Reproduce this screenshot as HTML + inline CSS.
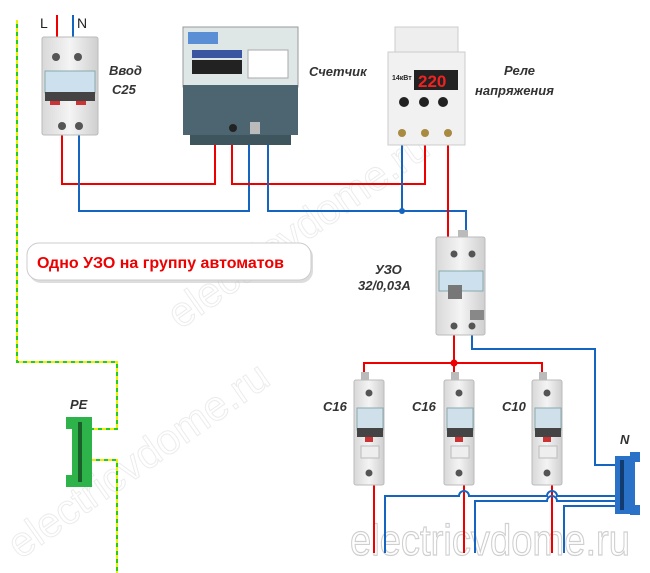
<!DOCTYPE html>
<html><head><meta charset="utf-8"><style>
html,body{margin:0;padding:0;background:#fff}
svg{display:block}
text{font-family:"Liberation Sans",sans-serif}
.lab{font-weight:bold;font-style:italic;fill:#333;font-size:13px}
</style></head><body>
<svg width="650" height="573" viewBox="0 0 650 573" xmlns="http://www.w3.org/2000/svg">
<defs>
<linearGradient id="gr" x1="0" x2="1"><stop offset="0" stop-color="#d8d8d8"/><stop offset=".5" stop-color="#f4f4f4"/><stop offset="1" stop-color="#cfcfcf"/></linearGradient>
<g id="brk1">
<rect x="-3" y="-8" width="8" height="10" fill="#bbb"/>
<rect x="-10" y="0" width="30" height="105" rx="2" fill="url(#gr)" stroke="#bbb"/>
<circle cx="5" cy="13" r="3.5" fill="#555"/>
<rect x="-7" y="28" width="26" height="22" fill="#cfe0ea" stroke="#8aa"/>
<rect x="-7" y="48" width="26" height="9" fill="#444"/>
<rect x="1" y="57" width="8" height="5" fill="#c33"/>
<rect x="-3" y="66" width="18" height="12" fill="#eee" stroke="#bbb"/>
<circle cx="5" cy="93" r="3.5" fill="#555"/>
</g>
</defs>

<!-- watermark -->
<text x="350" y="555" font-size="44" fill="none" stroke="#cfcfcf" stroke-width="1.2" textLength="280" lengthAdjust="spacingAndGlyphs">electricvdome.ru</text>
<text x="180" y="330" font-size="42" fill="none" stroke="#ececec" stroke-width="1" transform="rotate(-35 180 330)">electricvdome.ru</text>
<text x="20" y="560" font-size="42" fill="none" stroke="#ececec" stroke-width="1" transform="rotate(-35 20 560)">electricvdome.ru</text>

<!-- PE dashed -->
<g fill="none" stroke-width="2">
<polyline points="17,20 17,362 117,362 117,429 92,429" stroke="#22cc22"/>
<polyline points="17,20 17,362 117,362 117,429 92,429" stroke="#eeee00" stroke-dasharray="4 4"/>
<polyline points="92,460 117,460 117,573" stroke="#22cc22"/>
<polyline points="92,460 117,460 117,573" stroke="#eeee00" stroke-dasharray="4 4"/>
</g>
<!-- PE bar -->
<rect x="72" y="417" width="20" height="70" fill="#2db34a"/>
<rect x="66" y="417" width="8" height="12" fill="#2db34a"/>
<rect x="66" y="475" width="8" height="12" fill="#2db34a"/>
<g fill="#1a5e2a"><rect x="78" y="422" width="4" height="60"/></g>
<text x="70" y="409" class="lab" font-size="15">PE</text>

<!-- wires -->
<g fill="none" stroke-width="2">
<line x1="57" y1="15" x2="57" y2="40" stroke="#e00"/>
<line x1="73" y1="15" x2="73" y2="40" stroke="#1565c0"/>
<polyline points="62,135 62,184 215,184 215,145" stroke="#e00"/>
<polyline points="79,135 79,211 249,211 249,145" stroke="#1565c0"/>
<polyline points="232,145 232,184 425,184 425,145" stroke="#e00"/>
<polyline points="268,145 268,211 466,211 466,237" stroke="#1565c0"/>
<line x1="402" y1="145" x2="402" y2="211" stroke="#1565c0"/>
<line x1="448" y1="145" x2="448" y2="237" stroke="#e00"/>
<polyline points="472,330 472,349 595,349 595,465 615,465" stroke="#1565c0"/>
<line x1="454" y1="330" x2="454" y2="380" stroke="#e00"/>
<polyline points="364,380 364,363 542,363 542,380" stroke="#e00"/>
<line x1="374" y1="485" x2="374" y2="553" stroke="#e00"/>
<line x1="464" y1="485" x2="464" y2="553" stroke="#e00"/>
<line x1="552" y1="485" x2="552" y2="553" stroke="#e00"/>
<path d="M385,553 V496 H459 a5,5 0 0 1 10,0 H547 a5,5 0 0 1 10,0 H615" stroke="#1565c0"/>
<path d="M475,553 V501 H547 a5,5 0 0 1 10,0 H615" stroke="#1565c0"/>
<path d="M564,553 V506 H615" stroke="#1565c0"/>
</g>
<circle cx="402" cy="211" r="3" fill="#1565c0"/>
<circle cx="454" cy="363" r="3.5" fill="#e00"/>
<text x="40" y="28" font-size="14" fill="#222">L</text>
<text x="77" y="28" font-size="14" fill="#222">N</text>

<!-- intro breaker -->
<rect x="42" y="37" width="56" height="98" rx="2" fill="url(#gr)" stroke="#bbb"/>
<circle cx="56" cy="57" r="4" fill="#555"/><circle cx="78" cy="57" r="4" fill="#555"/>
<rect x="45" y="71" width="50" height="22" fill="#cde0ee" stroke="#8aa"/>
<rect x="45" y="92" width="50" height="9" fill="#444"/>
<rect x="50" y="101" width="10" height="4" fill="#c33"/><rect x="76" y="101" width="10" height="4" fill="#c33"/>
<circle cx="62" cy="126" r="4" fill="#555"/><circle cx="79" cy="126" r="4" fill="#555"/>
<text x="109" y="75" class="lab" font-size="14">Ввод</text>
<text x="112" y="94" class="lab" font-size="14">C25</text>

<!-- meter -->
<rect x="183" y="27" width="115" height="60" fill="#dfe6e6" stroke="#999"/>
<rect x="188" y="32" width="30" height="12" fill="#5a8fd6"/>
<rect x="192" y="50" width="50" height="8" fill="#3b55a0"/>
<rect x="192" y="60" width="50" height="14" fill="#222"/>
<rect x="248" y="50" width="40" height="28" fill="#fff" stroke="#aaa"/>
<rect x="183" y="85" width="115" height="50" fill="#4d6570"/>
<rect x="190" y="135" width="101" height="10" fill="#3e555e"/>
<circle cx="233" cy="128" r="4" fill="#222"/>
<rect x="250" y="122" width="10" height="12" fill="#bbb"/>
<text x="309" y="76" class="lab" font-size="14">Счетчик</text>

<!-- relay -->
<rect x="395" y="27" width="63" height="28" fill="#eee" stroke="#ccc"/>
<rect x="388" y="52" width="77" height="93" fill="#f1f1f1" stroke="#ccc"/>
<rect x="414" y="70" width="44" height="20" fill="#222"/>
<text x="418" y="87" font-size="17" font-weight="bold" fill="#e22" font-family="Liberation Mono">220</text>
<text x="392" y="80" font-size="7" font-weight="bold" fill="#222">14кВт</text>
<circle cx="404" cy="102" r="5" fill="#222"/><circle cx="424" cy="102" r="5" fill="#222"/><circle cx="443" cy="102" r="5" fill="#222"/>
<circle cx="402" cy="133" r="4" fill="#a88a40"/><circle cx="425" cy="133" r="4" fill="#a88a40"/><circle cx="448" cy="133" r="4" fill="#a88a40"/>
<text x="504" y="75" class="lab" font-size="14">Реле</text>
<text x="475" y="95" class="lab" font-size="14">напряжения</text>

<!-- callout -->
<rect x="29" y="245" width="284" height="38" rx="12" fill="#bbb" opacity=".5"/>
<rect x="27" y="243" width="284" height="37" rx="12" fill="#fff" stroke="#ccc"/>
<text x="37" y="268" font-size="16" font-weight="bold" fill="#e00">Одно УЗО на группу автоматов</text>

<!-- UZO -->
<rect x="458" y="230" width="10" height="10" fill="#bbb"/>
<rect x="436" y="237" width="49" height="98" rx="2" fill="url(#gr)" stroke="#bbb"/>
<circle cx="454" cy="254" r="3.5" fill="#555"/><circle cx="472" cy="254" r="3.5" fill="#555"/>
<rect x="439" y="271" width="44" height="20" fill="#cde0ee" stroke="#8aa"/>
<rect x="448" y="285" width="14" height="14" fill="#777"/>
<rect x="470" y="310" width="14" height="10" fill="#888"/>
<circle cx="454" cy="326" r="3.5" fill="#555"/><circle cx="472" cy="326" r="3.5" fill="#555"/>
<text x="375" y="274" class="lab" font-size="14">УЗО</text>
<text x="358" y="290" class="lab" font-size="11">32/0,03А</text>

<!-- breakers -->
<use href="#brk1" x="364" y="380"/>
<use href="#brk1" x="454" y="380"/>
<use href="#brk1" x="542" y="380"/>
<text x="323" y="411" class="lab" font-size="14">C16</text>
<text x="412" y="411" class="lab" font-size="14">C16</text>
<text x="502" y="411" class="lab" font-size="14">C10</text>

<!-- N bar -->
<rect x="615" y="456" width="20" height="58" fill="#2a72c8"/>
<rect x="630" y="452" width="10" height="10" fill="#2a72c8"/>
<rect x="630" y="505" width="10" height="10" fill="#2a72c8"/>
<rect x="620" y="460" width="4" height="50" fill="#123c70"/>
<text x="620" y="444" class="lab" font-size="15">N</text>
</svg>
</body></html>
